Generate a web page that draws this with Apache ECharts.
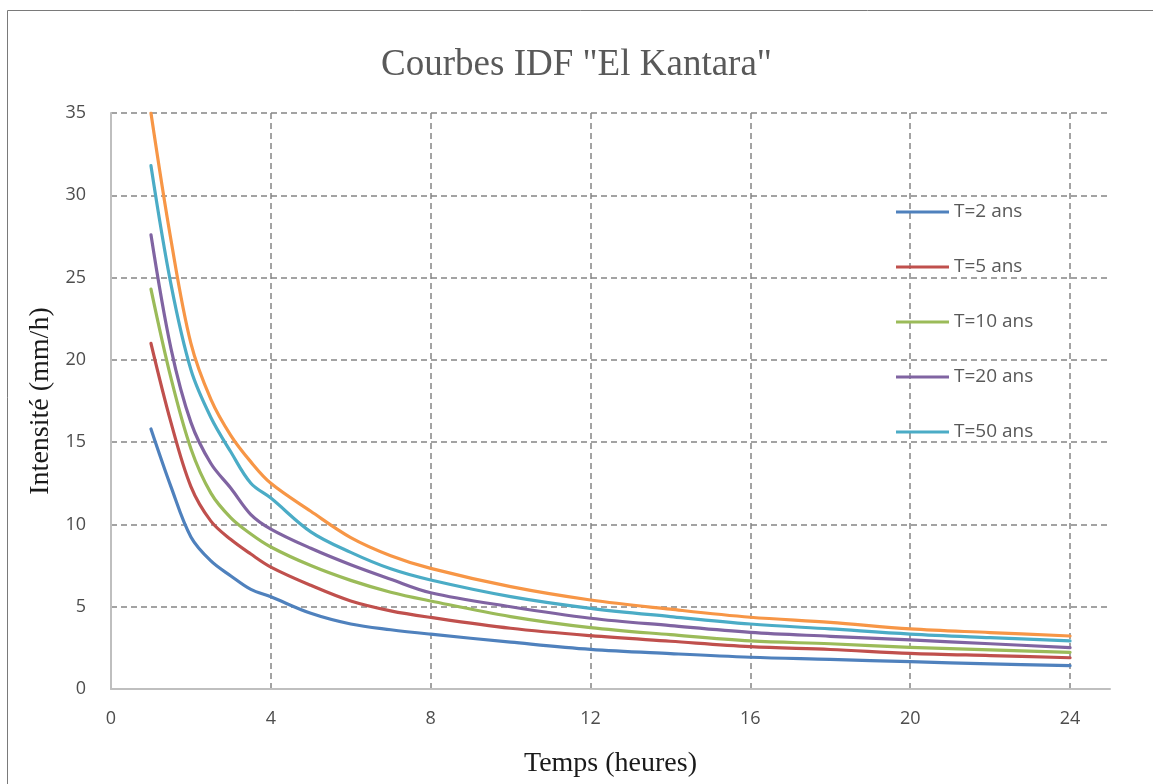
<!DOCTYPE html>
<html>
<head>
<meta charset="utf-8">
<script src="https://cdn.jsdelivr.net/npm/echarts@6/dist/echarts.min.js"></script>
<style>
html,body{margin:0;padding:0;background:#fff;}
#chart{width:1153px;height:784px;}
</style>
</head>
<body>
<div id="chart"></div>
<script>
// Durations (hours)
const durations = [1, 1.5, 2, 2.5, 3, 3.5, 4, 5, 6, 7, 8, 10, 12, 14, 16, 18, 20, 22, 24];
// Intensities (mm/h) per return period
const T2   = [15.8, 12.3, 9.24, 7.78, 6.87, 6.05, 5.6, 4.6, 3.95, 3.6, 3.33, 2.85, 2.41, 2.15, 1.93, 1.8, 1.66, 1.53, 1.42];
const T5   = [21.0, 16.2, 12.3, 10.2, 9.08, 8.2, 7.41, 6.3, 5.35, 4.75, 4.35, 3.69, 3.24, 2.9, 2.57, 2.4, 2.17, 2.03, 1.9];
const T10  = [24.3, 18.9, 14.6, 11.9, 10.4, 9.42, 8.63, 7.5, 6.6, 5.88, 5.35, 4.4, 3.73, 3.3, 2.92, 2.75, 2.53, 2.38, 2.23];
const T20  = [27.6, 20.7, 16.2, 13.7, 12.2, 10.6, 9.72, 8.55, 7.55, 6.67, 5.85, 5.0, 4.3, 3.85, 3.44, 3.2, 2.98, 2.75, 2.51];
const T50  = [31.8, 24.6, 19.4, 16.5, 14.4, 12.5, 11.6, 9.55, 8.3, 7.3, 6.62, 5.61, 4.9, 4.4, 3.95, 3.65, 3.34, 3.12, 2.92];
const T100 = [35.0, 27.3, 21.0, 17.6, 15.4, 13.8, 12.5, 10.8, 9.2, 8.1, 7.33, 6.22, 5.41, 4.85, 4.36, 4.05, 3.65, 3.43, 3.22];

const seriesNames = ['T=2 ans', 'T=5 ans', 'T=10 ans', 'T=20 ans', 'T=50 ans', 'T=100 ans'];
const seriesValues = [T2, T5, T10, T20, T50, T100];
const seriesColors = ['#4F81BD', '#C0504D', '#9BBB59', '#8064A2', '#4BACC6', '#F79646'];
const legendNames = ['T=2 ans', 'T=5 ans', 'T=10 ans', 'T=20 ans', 'T=50 ans'];

const chart = echarts.init(document.getElementById('chart'), null, {renderer: 'canvas'});

const gridLine = {show: true, lineStyle: {color: '#858585', width: 1.5, type: [6, 4]}};

chart.setOption({
  animation: false,
  backgroundColor: '#ffffff',
  title: {
    text: 'Courbes IDF "El Kantara"',
    left: 'center',
    top: 42,
    textStyle: {fontFamily: 'Liberation Serif', fontSize: 37, fontWeight: 'normal', color: '#595959'}
  },
  graphic: [{
    type: 'rect',
    shape: {x: 7.5, y: 10.5, width: 1200, height: 900},
    style: {fill: 'none', stroke: '#7a7a7a', lineWidth: 1},
    silent: true,
    z: 0
  }],
  legend: {
    data: legendNames,
    orient: 'vertical',
    left: 891,
    top: 197,
    itemWidth: 53,
    itemHeight: 3,
    itemGap: 35,
    icon: 'rect',
    textStyle: {fontFamily: 'Open Sans', fontSize: 19, color: '#595959', lineHeight: 20}
  },
  grid: {left: 111, top: 113, right: 43, bottom: 95, containLabel: false},
  xAxis: {
    type: 'value',
    min: 0,
    max: 25,
    interval: 4,
    name: 'Temps (heures)',
    nameLocation: 'middle',
    nameGap: 61,
    nameTextStyle: {fontFamily: 'Liberation Serif', fontSize: 28, color: '#1a1a1a'},
    axisLine: {show: true, lineStyle: {color: '#BFBFBF', width: 2}},
    axisTick: {show: false},
    axisLabel: {
      margin: 21,
      fontFamily: 'Open Sans', fontSize: 18, color: '#4d4d4d',
      formatter: function (v) { return v > 24 ? '' : String(v); }
    },
    splitLine: Object.assign({showMinLine: false, showMaxLine: false}, gridLine)
  },
  yAxis: {
    type: 'value',
    min: 0,
    max: 35,
    interval: 5,
    name: 'Intensité (mm/h)',
    nameLocation: 'middle',
    nameGap: 54,
    nameTextStyle: {fontFamily: 'Liberation Serif', fontSize: 28, color: '#1a1a1a'},
    axisLine: {show: true, lineStyle: {color: '#BFBFBF', width: 2}},
    axisTick: {show: false},
    axisLabel: {margin: 25, fontFamily: 'Open Sans', fontSize: 18, color: '#4d4d4d'},
    splitLine: Object.assign({showMinLine: false, showMaxLine: true}, gridLine)
  },
  series: seriesNames.map(function (name, i) {
    return {
      name: name,
      type: 'line',
      data: durations.map(function (t, j) { return [t, seriesValues[i][j]]; }),
      showSymbol: false,
      symbol: 'none',
      smooth: 0.35,
      color: seriesColors[i],
      lineStyle: {color: seriesColors[i], width: 3.2, cap: 'round', join: 'round'},
      z: 3
    };
  })
});
</script>
</body>
</html>
